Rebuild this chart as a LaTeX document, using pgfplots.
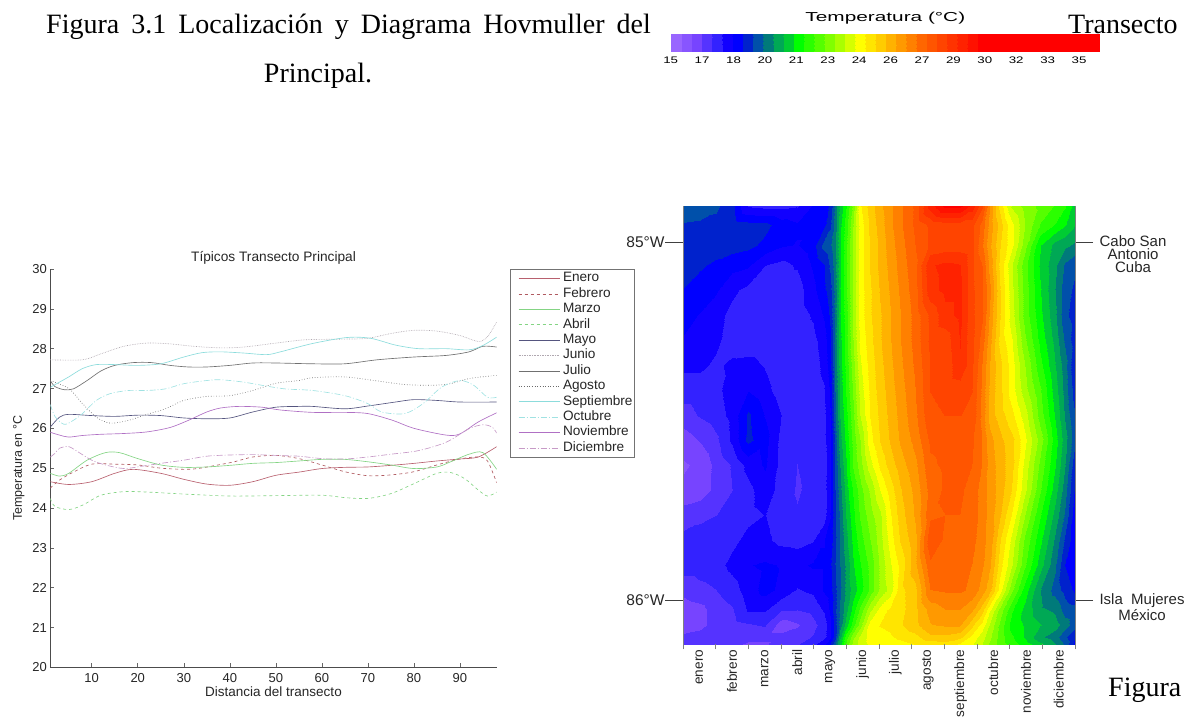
\documentclass[border=0pt]{standalone}
\usepackage{fontspec}
\setmainfont{Liberation Sans}
\newfontfamily\timesfont{Liberation Serif}
\newfontfamily\widefont[FakeStretch=1.4]{Liberation Sans}
\newfontfamily\widerfont[FakeStretch=1.6]{Liberation Sans}
\usepackage{pgfplots}
\pgfplotsset{compat=1.18}

\definecolor{cene}{HTML}{B8606E}
\definecolor{cfeb}{HTML}{B05A60}
\definecolor{cmar}{HTML}{84D484}
\definecolor{cabr}{HTML}{84D484}
\definecolor{cmay}{HTML}{55557F}
\definecolor{cjun}{HTML}{B0A8B0}
\definecolor{cjul}{HTML}{707070}
\definecolor{cago}{HTML}{6A6A6A}
\definecolor{csep}{HTML}{8CDCDC}
\definecolor{coct}{HTML}{A0E2E2}
\definecolor{cnov}{HTML}{B070C4}
\definecolor{cdic}{HTML}{C79AC7}

% bands of half a degree, as in the scale at the top
\pgfplotsset{
  colormap={temp}{
    rgb255=(153,102,255) rgb255=(136,85,255) rgb255=(119,68,255) rgb255=(85,51,255)
    rgb255=(51,34,255) rgb255=(17,0,255) rgb255=(0,0,255) rgb255=(0,34,204)
    rgb255=(0,80,170) rgb255=(0,122,122) rgb255=(0,168,85) rgb255=(0,204,51)
    rgb255=(0,255,0) rgb255=(43,255,0) rgb255=(85,255,0) rgb255=(128,255,0)
    rgb255=(170,255,0) rgb255=(213,255,0) rgb255=(255,255,0) rgb255=(255,229,0)
    rgb255=(255,204,0) rgb255=(255,178,0) rgb255=(255,153,0) rgb255=(255,128,0)
    rgb255=(255,102,0) rgb255=(255,85,0) rgb255=(255,68,0) rgb255=(255,51,0)
    rgb255=(255,34,0) rgb255=(255,17,0) rgb255=(255,0,0) rgb255=(255,0,0)
    rgb255=(255,0,0) rgb255=(255,0,0) rgb255=(255,0,0) rgb255=(255,0,0)
    rgb255=(255,0,0) rgb255=(255,0,0) rgb255=(255,0,0) rgb255=(255,0,0)
    rgb255=(255,0,0) rgb255=(255,0,0)
  }
}

\begin{document}
\begin{tikzpicture}
\path[use as bounding box] (0pt,0pt) rectangle (1191pt,717pt);

% running text around the figures
\node[anchor=base west,inner sep=0,font=\timesfont\fontsize{28}{30}\selectfont] at (46pt,683pt) {\spaceskip=12pt Figura 3.1 Localización y Diagrama Hovmuller del};
\node[anchor=base,inner sep=0,font=\timesfont\fontsize{28}{30}\selectfont] at (318pt,634pt) {Principal.};
\node[anchor=base west,inner sep=0,font=\timesfont\fontsize{28}{30}\selectfont] at (1068pt,683pt) {Transecto};
\node[anchor=base west,inner sep=0,font=\timesfont\fontsize{28}{30}\selectfont] at (1108pt,20pt) {Figura};

% colour scale
\begin{axis}[
  at={(670.7pt,665.7pt)},anchor=south west,
  scale only axis,width=429.3pt,height=17.3pt,
  view={0}{90},
  xmin=15,xmax=35.5,ymin=0,ymax=1,
  axis line style={draw=none},
  ytick=\empty,
  xtick={15,16.5,18,19.5,21,22.5,24,25.5,27,28.5,30,31.5,33,34.5},
  xticklabels={15,17,18,20,21,23,24,26,27,29,30,32,33,35},
  xticklabel style={font=\widefont\fontsize{9.5}{10}\selectfont,yshift=-2pt},
  xtick style={draw=none},
  title={Temperatura (°C)},
  title style={font=\widerfont\fontsize{13}{13}\selectfont,yshift=0.5pt},
  colormap name=temp,
  colormap access=piecewise constant,
  point meta min=15,point meta max=35.5,
]
\addplot3[surf,shader=interp,mesh/cols=2] table {
x y z
15 0 15
35.5 0 35.5
15 1 15
35.5 1 35.5
};
\end{axis}

% monthly means along the transect
\begin{axis}[
  at={(50.3pt,49.7pt)},anchor=south west,
  scale only axis,width=446.4pt,height=398.3pt,
  xmin=1,xmax=98,ymin=20,ymax=30,
  axis lines*=left,
  axis line style={color=black!70,line width=0.7pt,-},
  xtick={10,20,...,90},ytick={20,21,...,30},
  tick align=inside,major tick length=4pt,
  tick style={color=black!60,line width=0.5pt},
  tick label style={font=\fontsize{13}{14}\selectfont,text=black!85},
  /pgf/number format/assume math mode=true,
  xticklabel style={yshift=-3pt},
  title={Típicos Transecto Principal},
  title style={font=\fontsize{13.7}{14}\selectfont,text=black!85,yshift=-5pt},
  xlabel={Distancia del transecto},
  xlabel style={font=\fontsize{13.5}{14}\selectfont,text=black!85,yshift=3pt},
  ylabel={Temperatura en °C},
  ylabel style={font=\fontsize{12.5}{14}\selectfont,text=black!85,yshift=1pt},
  every axis plot/.append style={line width=0.65pt,smooth,no marks},
  legend cell align=left,
  legend style={
    at={(1.0298,1)},anchor=north west,
    draw=black!55,line width=0.7pt,
    font=\fontsize{13.6}{14}\selectfont,
    text=black!85,
    row sep=0.9pt,
    inner xsep=1pt,inner ysep=2pt,
    nodes={inner sep=1pt,text height=9.5pt,text depth=3pt},
  },
  legend image code/.code={\path (0pt,0pt) (50pt,0pt); \draw[#1] (7pt,0pt) -- (48pt,0pt);},
]
\addplot[cene] coordinates {(1,24.66)(5,24.59)(10,24.66)(15,24.87)(19,24.97)(25,24.87)(30,24.72)(35,24.6)(40,24.57)(45,24.66)(50,24.82)(55,24.9)(60,24.99)(65,25.02)(70,25.03)(75,25.07)(80,25.12)(85,25.18)(90,25.23)(94,25.28)(98,25.54)};
\addplot[cfeb,dashed] coordinates {(1,24.5)(3,24.7)(6,24.9)(10,25.1)(15,25.1)(20,25.08)(25,25.0)(30,24.97)(33,24.99)(37,25.07)(41,25.16)(45,25.28)(50,25.32)(55,25.24)(60,25.08)(65,24.91)(70,24.81)(75,24.83)(80,24.91)(85,25.08)(90,25.23)(94,25.28)(96,25.18)(98,24.63)};
\addplot[cmar] coordinates {(1,24.87)(3,24.8)(5,24.87)(9,25.2)(13,25.39)(16,25.39)(20,25.24)(25,25.08)(30,25.02)(35,25.03)(40,25.07)(45,25.12)(50,25.14)(55,25.18)(60,25.22)(65,25.22)(70,25.16)(75,25.08)(80,24.99)(85,25.03)(88,25.16)(92,25.35)(95,25.39)(98,24.97)};
\addplot[cabr,dashed] coordinates {(1,24.24)(2,24.04)(5,23.96)(8,24.07)(12,24.32)(17,24.41)(22,24.4)(30,24.35)(40,24.3)(50,24.31)(60,24.32)(65,24.26)(70,24.24)(75,24.36)(80,24.61)(85,24.87)(88,24.89)(91,24.74)(94,24.45)(96,24.3)(98,24.4)};
\addplot[cmay] coordinates {(1,26.03)(3,26.28)(5,26.35)(10,26.32)(15,26.3)(20,26.33)(25,26.32)(30,26.26)(35,26.24)(40,26.26)(45,26.41)(50,26.53)(55,26.55)(58,26.55)(65,26.49)(70,26.56)(76,26.66)(80,26.72)(85,26.7)(90,26.66)(98,26.66)};
\addplot[cjun,densely dotted] coordinates {(1,27.72)(8,27.72)(12,27.87)(17,28.06)(22,28.14)(27,28.12)(32,28.06)(38,28.02)(43,28.04)(50,28.14)(55,28.21)(58,28.23)(65,28.24)(70,28.26)(75,28.38)(80,28.46)(85,28.44)(90,28.33)(94,28.18)(96,28.3)(98,28.67)};
\addplot[cjul] coordinates {(1,27.2)(2,27.05)(4,26.97)(6,26.99)(9,27.2)(12,27.44)(15,27.58)(19,27.65)(23,27.65)(27,27.58)(31,27.54)(35,27.54)(40,27.58)(45,27.64)(50,27.64)(58,27.62)(65,27.62)(72,27.72)(80,27.79)(87,27.83)(92,27.92)(95,28.06)(98,28.04)};
\addplot[cago,dotted] coordinates {(1,27.2)(5,27.0)(8,26.62)(11,26.28)(14,26.13)(18,26.2)(22,26.35)(26,26.49)(30,26.7)(35,26.8)(40,26.82)(45,26.95)(50,27.13)(55,27.2)(58,27.27)(65,27.29)(72,27.19)(78,27.1)(84,27.08)(88,27.12)(92,27.25)(98,27.33)};
\addplot[csep] coordinates {(1,27.03)(3,27.16)(5,27.29)(8,27.5)(11,27.6)(15,27.6)(20,27.58)(25,27.62)(30,27.79)(34,27.9)(38,27.92)(43,27.89)(48,27.85)(51,27.92)(58,28.13)(65.5,28.28)(70.6,28.26)(76,28.09)(81,28.0)(87,28.0)(92,27.97)(95,28.08)(98,28.29)};
\addplot[coct,dash pattern=on 6pt off 2pt on 1pt off 2pt] coordinates {(1,26.6)(2,26.3)(4,26.1)(6,26.2)(8,26.37)(11,26.7)(14,26.87)(18,26.95)(22,26.95)(26,26.99)(30,27.12)(35,27.2)(38,27.22)(43,27.16)(47,27.08)(52,26.99)(58,26.95)(65,26.82)(70,26.62)(73,26.41)(78,26.37)(82,26.62)(86,27.03)(90,27.2)(93,27.08)(96,26.78)(98,26.78)};
\addplot[cnov] coordinates {(1,25.9)(3,25.83)(5,25.78)(8,25.82)(12,25.85)(17,25.87)(22,25.91)(27,26.02)(31,26.2)(35,26.41)(38,26.51)(42,26.55)(47,26.53)(51,26.46)(58,26.4)(65,26.4)(70,26.37)(75.4,26.2)(80,26.0)(87,25.83)(90,25.86)(94,26.16)(98,26.39)};
\addplot[cdic,dash pattern=on 6pt off 2pt on 1pt off 2pt] coordinates {(1,25.28)(2,25.37)(3,25.5)(5,25.54)(7,25.41)(10,25.2)(13,25.08)(17,24.99)(21,25.05)(25,25.12)(30,25.2)(35,25.3)(40,25.33)(45,25.34)(50,25.32)(55,25.3)(60,25.24)(65,25.23)(70,25.28)(75,25.35)(81,25.44)(87,25.65)(92,25.99)(95,26.09)(97,26.03)(98,25.88)};
\legend{Enero,Febrero,Marzo,Abril,Mayo,Junio,Julio,Agosto,Septiembre,Octubre,Noviembre,Diciembre}
\end{axis}

% month by longitude, filled bands
\begin{axis}[
  at={(683pt,72.7pt)},anchor=south west,
  scale only axis,width=392pt,height=438.3pt,
  view={0}{90},
  xmin=0,xmax=12,ymin=84.899,ymax=86.123,
  y dir=reverse,
  axis line style={draw=none},
  xtick pos=bottom,
  xtick={0.5,1.5,...,11.5},
  xticklabels={enero,febrero,marzo,abril,mayo,junio,julio,agosto,septiembre,octubre,noviembre,diciembre},
  xticklabel style={rotate=90,anchor=east,font=\fontsize{13.6}{14}\selectfont,text=black!85,xshift=16pt},
  xtick style={draw=none},
  extra x ticks={0,1,...,12},
  extra x tick labels={},
  extra x tick style={major tick length=5pt,xtick style={draw=black!50,line width=0.6pt}},
  ytick={85,86},
  yticklabels={85°W,86°W},
  ytick pos=both,
  yticklabel pos=left,
  tick align=outside,
  major tick length=18pt,
  ytick style={color=black!75,line width=0.6pt},
  yticklabel style={font=\fontsize{15.5}{16}\selectfont,text=black!85,xshift=3pt},
  colormap name=temp,
  colormap access=piecewise constant,
  point meta min=15,point meta max=35.5,
  after end axis/.code={
    \draw[black!50,line width=0.7pt] (rel axis cs:0,0) -- (rel axis cs:0,1);
    \draw[black!50,line width=0.7pt] (rel axis cs:1,0) -- (rel axis cs:1,1);
  },
]
\addplot3[surf,shader=interp,mesh/cols=34] coordinates {
(0,84.899,19.3)(0.52,84.899,19.2)(1.01,84.899,19.0)(1.5,84.899,18.6)(1.99,84.899,17.4)(2.51,84.899,17.3)(3,84.899,17.3)(3.49,84.899,17.4)(3.98,84.899,18.0)(4.32,84.899,18.2)(4.5,84.899,18.5)(4.65,84.899,19.5)(4.81,84.899,20.5)(4.99,84.899,21.3)(5.2,84.899,22.5)(5.42,84.899,24.2)(5.72,84.899,25.0)(6.03,84.899,25.6)(6.34,84.899,26.1)(6.64,84.899,26.6)(7.1,84.899,27.3)(7.56,84.899,28.9)(8.02,84.899,29.8)(8.48,84.899,29.8)(8.85,84.899,29.0)(9.15,84.899,27.8)(9.4,84.899,26.2)(9.7,84.899,24.6)(10.07,84.899,23.2)(10.47,84.899,22.6)(10.93,84.899,22.2)(11.39,84.899,21.8)(11.69,84.899,21.4)(12,84.899,20.6)

(0,84.953,18.85)(0.52,84.953,18.8)(1.01,84.953,18.75)(1.5,84.953,18.7)(1.99,84.953,18.6)(2.51,84.953,18.55)(3,84.953,18.2)(3.49,84.953,18.0)(3.98,84.953,18.0)(4.32,84.953,18.3)(4.5,84.953,18.8)(4.65,84.953,19.6)(4.81,84.953,20.7)(4.99,84.953,21.6)(5.2,84.953,22.8)(5.42,84.953,24.0)(5.72,84.953,24.9)(6.03,84.953,25.5)(6.34,84.953,26.1)(6.64,84.953,26.6)(7.1,84.953,27.3)(7.56,84.953,27.8)(8.02,84.953,27.9)(8.48,84.953,27.9)(8.85,84.953,27.8)(9.15,84.953,27.0)(9.4,84.953,26.0)(9.7,84.953,25.0)(10.07,84.953,23.9)(10.47,84.953,22.8)(10.93,84.953,21.8)(11.39,84.953,21.3)(11.69,84.953,20.9)(12,84.953,20.4)

(0,85.008,18.8)(0.52,85.008,18.8)(1.01,85.008,18.7)(1.5,85.008,18.65)(1.99,85.008,18.55)(2.51,85.008,18.3)(3,85.008,18.0)(3.49,85.008,17.9)(3.98,85.008,18.2)(4.32,85.008,19.1)(4.5,85.008,19.3)(4.65,85.008,19.8)(4.81,85.008,20.8)(4.99,85.008,21.7)(5.2,85.008,22.9)(5.42,85.008,24.0)(5.72,85.008,24.8)(6.03,85.008,25.4)(6.34,85.008,26.0)(6.64,85.008,26.5)(7.1,85.008,27.2)(7.56,85.008,27.8)(8.02,85.008,27.9)(8.48,85.008,27.9)(8.85,85.008,27.8)(9.15,85.008,26.8)(9.4,85.008,25.8)(9.7,85.008,24.8)(10.07,85.008,23.9)(10.47,85.008,22.5)(10.93,85.008,20.9)(11.39,85.008,20.2)(11.69,85.008,20.0)(12,85.008,19.8)

(0,85.064,18.65)(0.52,85.064,18.5)(1.01,85.064,18.3)(1.5,85.064,18.1)(1.99,85.064,18.0)(2.51,85.064,17.45)(3,85.064,17.3)(3.49,85.064,17.5)(3.98,85.064,18.0)(4.32,85.064,18.4)(4.5,85.064,19.0)(4.65,85.064,19.7)(4.81,85.064,20.8)(4.99,85.064,21.7)(5.2,85.064,22.9)(5.42,85.064,24.0)(5.72,85.064,24.8)(6.03,85.064,25.4)(6.34,85.064,25.9)(6.64,85.064,26.4)(7.1,85.064,27.1)(7.56,85.064,28.6)(8.02,85.064,28.8)(8.48,85.064,28.7)(8.85,85.064,27.8)(9.15,85.064,27.2)(9.4,85.064,26.0)(9.7,85.064,24.6)(10.07,85.064,23.3)(10.47,85.064,22.0)(10.93,85.064,20.8)(11.39,85.064,20.0)(11.69,85.064,19.3)(12,85.064,19.0)

(0,85.134,18.4)(0.52,85.134,18.15)(1.01,85.134,18.0)(1.5,85.134,17.55)(1.99,85.134,17.3)(2.51,85.134,17.2)(3,85.134,17.15)(3.49,85.134,17.2)(3.98,85.134,17.8)(4.32,85.134,18.3)(4.5,85.134,18.7)(4.65,85.134,19.6)(4.81,85.134,20.8)(4.99,85.134,21.7)(5.2,85.134,22.9)(5.42,85.134,24.0)(5.72,85.134,24.7)(6.03,85.134,25.3)(6.34,85.134,25.8)(6.64,85.134,26.3)(7.1,85.134,27.0)(7.56,85.134,28.5)(8.02,85.134,28.8)(8.48,85.134,28.8)(8.85,85.134,27.8)(9.15,85.134,27.3)(9.4,85.134,26.3)(9.7,85.134,24.8)(10.07,85.134,23.4)(10.47,85.134,22.1)(10.93,85.134,20.9)(11.39,85.134,19.9)(11.69,85.134,19.1)(12,85.134,18.8)

(0,85.204,18.1)(0.52,85.204,17.9)(1.01,85.204,17.6)(1.5,85.204,17.3)(1.99,85.204,17.2)(2.51,85.204,17.2)(3,85.204,17.1)(3.49,85.204,17.2)(3.98,85.204,17.5)(4.32,85.204,18.0)(4.5,85.204,18.5)(4.65,85.204,19.6)(4.81,85.204,20.8)(4.99,85.204,21.6)(5.2,85.204,22.9)(5.42,85.204,24.0)(5.72,85.204,24.7)(6.03,85.204,25.2)(6.34,85.204,25.7)(6.64,85.204,26.2)(7.1,85.204,26.9)(7.56,85.204,27.8)(8.02,85.204,28.5)(8.48,85.204,28.8)(8.85,85.204,27.8)(9.15,85.204,27.3)(9.4,85.204,26.1)(9.7,85.204,24.8)(10.07,85.204,23.5)(10.47,85.204,22.1)(10.93,85.204,21.0)(11.39,85.204,20.0)(11.69,85.204,19.0)(12,85.204,18.7)

(0,85.274,17.9)(0.52,85.274,17.75)(1.01,85.274,17.55)(1.5,85.274,17.2)(1.99,85.274,17.15)(2.51,85.274,17.15)(3,85.274,17.1)(3.49,85.274,17.15)(3.98,85.274,17.3)(4.32,85.274,17.7)(4.5,85.274,18.3)(4.65,85.274,19.6)(4.81,85.274,20.7)(4.99,85.274,21.6)(5.2,85.274,22.8)(5.42,85.274,23.9)(5.72,85.274,24.6)(6.03,85.274,25.2)(6.34,85.274,25.7)(6.64,85.274,26.2)(7.1,85.274,26.9)(7.56,85.274,27.8)(8.02,85.274,27.9)(8.48,85.274,28.7)(8.85,85.274,27.8)(9.15,85.274,27.0)(9.4,85.274,25.9)(9.7,85.274,24.6)(10.07,85.274,23.8)(10.47,85.274,22.4)(10.93,85.274,21.2)(11.39,85.274,20.2)(11.69,85.274,19.3)(12,85.274,18.6)

(0,85.344,17.55)(0.52,85.344,17.55)(1.01,85.344,17.35)(1.5,85.344,17.55)(1.99,85.344,17.6)(2.51,85.344,17.4)(3,85.344,17.1)(3.49,85.344,17.1)(3.98,85.344,17.2)(4.32,85.344,17.6)(4.5,85.344,18.2)(4.65,85.344,19.5)(4.81,85.344,20.6)(4.99,85.344,21.5)(5.2,85.344,22.6)(5.42,85.344,23.7)(5.72,85.344,24.5)(6.03,85.344,25.1)(6.34,85.344,25.6)(6.64,85.344,26.1)(7.1,85.344,26.8)(7.56,85.344,27.7)(8.02,85.344,27.8)(8.48,85.344,28.6)(8.85,85.344,27.8)(9.15,85.344,26.7)(9.4,85.344,25.7)(9.7,85.344,24.9)(10.07,85.344,24.0)(10.47,85.344,22.8)(10.93,85.344,21.5)(11.39,85.344,20.4)(11.69,85.344,19.6)(12,85.344,18.4)

(0,85.413,17.2)(0.52,85.413,17.2)(1.01,85.413,17.3)(1.5,85.413,17.7)(1.99,85.413,17.9)(2.51,85.413,17.6)(3,85.413,17.2)(3.49,85.413,17.1)(3.98,85.413,17.15)(4.32,85.413,17.4)(4.5,85.413,18.0)(4.65,85.413,19.4)(4.81,85.413,20.5)(4.99,85.413,21.4)(5.2,85.413,22.4)(5.42,85.413,23.5)(5.72,85.413,24.4)(6.03,85.413,25.0)(6.34,85.413,25.5)(6.64,85.413,26.0)(7.1,85.413,26.7)(7.56,85.413,27.7)(8.02,85.413,27.8)(8.48,85.413,27.9)(8.85,85.413,27.7)(9.15,85.413,26.6)(9.4,85.413,25.6)(9.7,85.413,24.9)(10.07,85.413,24.0)(10.47,85.413,23.0)(10.93,85.413,21.9)(11.39,85.413,20.6)(11.69,85.413,19.7)(12,85.413,18.6)

(0,85.483,16.75)(0.52,85.483,17.0)(1.01,85.483,17.2)(1.5,85.483,17.6)(1.99,85.483,18.5)(2.51,85.483,17.9)(3,85.483,17.45)(3.49,85.483,17.2)(3.98,85.483,17.1)(4.32,85.483,17.3)(4.5,85.483,17.9)(4.65,85.483,19.3)(4.81,85.483,20.4)(4.99,85.483,21.2)(5.2,85.483,22.2)(5.42,85.483,23.3)(5.72,85.483,24.3)(6.03,85.483,24.9)(6.34,85.483,25.4)(6.64,85.483,25.9)(7.1,85.483,26.6)(7.56,85.483,27.6)(8.02,85.483,27.7)(8.48,85.483,27.7)(8.85,85.483,27.6)(9.15,85.483,26.6)(9.4,85.483,25.5)(9.7,85.483,25.0)(10.07,85.483,24.4)(10.47,85.483,23.5)(10.93,85.483,22.1)(11.39,85.483,20.8)(11.69,85.483,19.8)(12,85.483,18.9)

(0,85.553,16.2)(0.52,85.553,16.5)(1.01,85.553,16.85)(1.5,85.553,17.55)(1.99,85.553,18.55)(2.51,85.553,18.1)(3,85.553,17.3)(3.49,85.553,17.0)(3.98,85.553,17.1)(4.32,85.553,17.3)(4.5,85.553,17.8)(4.65,85.553,19.1)(4.81,85.553,20.2)(4.99,85.553,21.0)(5.2,85.553,22.0)(5.42,85.553,22.8)(5.72,85.553,24.1)(6.03,85.553,24.8)(6.34,85.553,25.3)(6.64,85.553,25.8)(7.1,85.553,26.4)(7.56,85.553,27.3)(8.02,85.553,27.4)(8.48,85.553,27.4)(8.85,85.553,27.3)(9.15,85.553,26.7)(9.4,85.553,25.9)(9.7,85.553,25.4)(10.07,85.553,24.9)(10.47,85.553,23.9)(10.93,85.553,22.6)(11.39,85.553,21.1)(11.69,85.553,20.1)(12,85.553,19.0)

(0,85.623,15.9)(0.52,85.623,16.1)(1.01,85.623,16.6)(1.5,85.623,17.0)(1.99,85.623,17.6)(2.51,85.623,18.0)(3,85.623,17.3)(3.49,85.623,16.95)(3.98,85.623,17.1)(4.32,85.623,17.2)(4.5,85.623,17.8)(4.65,85.623,19.0)(4.81,85.623,19.9)(4.99,85.623,20.8)(5.2,85.623,21.9)(5.42,85.623,22.6)(5.72,85.623,23.6)(6.03,85.623,24.4)(6.34,85.623,25.0)(6.64,85.623,25.5)(7.1,85.623,26.1)(7.56,85.623,27.1)(8.02,85.623,27.3)(8.48,85.623,27.3)(8.85,85.623,27.2)(9.15,85.623,26.7)(9.4,85.623,26.0)(9.7,85.623,25.5)(10.07,85.623,24.9)(10.47,85.623,23.6)(10.93,85.623,22.2)(11.39,85.623,20.9)(11.69,85.623,19.9)(12,85.623,18.5)

(0,85.693,16.1)(0.52,85.693,16.2)(1.01,85.693,16.6)(1.5,85.693,16.95)(1.99,85.693,17.3)(2.51,85.693,17.7)(3,85.693,17.25)(3.49,85.693,16.9)(3.98,85.693,17.1)(4.32,85.693,17.25)(4.5,85.693,17.8)(4.65,85.693,18.9)(4.81,85.693,19.7)(4.99,85.693,20.6)(5.2,85.693,21.4)(5.42,85.693,22.1)(5.72,85.693,22.9)(6.03,85.693,23.8)(6.34,85.693,24.5)(6.64,85.693,25.2)(7.1,85.693,25.9)(7.56,85.693,26.9)(8.02,85.693,27.3)(8.48,85.693,27.3)(8.85,85.693,27.0)(9.15,85.693,26.5)(9.4,85.693,26.0)(9.7,85.693,25.5)(10.07,85.693,24.7)(10.47,85.693,23.4)(10.93,85.693,21.9)(11.39,85.693,20.6)(11.69,85.693,19.6)(12,85.693,18.3)

(0,85.763,16.7)(0.52,85.763,16.85)(1.01,85.763,16.95)(1.5,85.763,17.1)(1.99,85.763,17.3)(2.51,85.763,17.45)(3,85.763,17.2)(3.49,85.763,17.0)(3.98,85.763,17.1)(4.32,85.763,17.2)(4.5,85.763,17.9)(4.65,85.763,18.8)(4.81,85.763,19.5)(4.99,85.763,20.4)(5.2,85.763,21.2)(5.42,85.763,21.9)(5.72,85.763,22.6)(6.03,85.763,23.2)(6.34,85.763,24.2)(6.64,85.763,25.0)(7.1,85.763,25.8)(7.56,85.763,27.1)(8.02,85.763,27.2)(8.48,85.763,27.2)(8.85,85.763,27.0)(9.15,85.763,26.5)(9.4,85.763,26.0)(9.7,85.763,25.3)(10.07,85.763,24.2)(10.47,85.763,22.8)(10.93,85.763,21.4)(11.39,85.763,20.2)(11.69,85.763,19.3)(12,85.763,18.1)

(0,85.832,17.1)(0.52,85.832,17.15)(1.01,85.832,17.2)(1.5,85.832,17.3)(1.99,85.832,17.6)(2.51,85.832,17.55)(3,85.832,17.3)(3.49,85.832,17.25)(3.98,85.832,17.4)(4.32,85.832,17.9)(4.5,85.832,18.1)(4.65,85.832,18.8)(4.81,85.832,19.4)(4.99,85.832,20.2)(5.2,85.832,21.0)(5.42,85.832,21.6)(5.72,85.832,22.3)(6.03,85.832,23.1)(6.34,85.832,24.0)(6.64,85.832,24.8)(7.1,85.832,25.6)(7.56,85.832,27.6)(8.02,85.832,27.1)(8.48,85.832,27.1)(8.85,85.832,26.9)(9.15,85.832,26.4)(9.4,85.832,26.0)(9.7,85.832,24.8)(10.07,85.832,23.6)(10.47,85.832,22.2)(10.93,85.832,21.0)(11.39,85.832,19.8)(11.69,85.832,18.8)(12,85.832,18.1)

(0,85.902,17.2)(0.52,85.902,17.2)(1.01,85.902,17.25)(1.5,85.902,17.6)(1.99,85.902,17.9)(2.51,85.902,18.0)(3,85.902,17.9)(3.49,85.902,17.8)(3.98,85.902,18.0)(4.32,85.902,18.0)(4.5,85.902,18.3)(4.65,85.902,18.9)(4.81,85.902,19.4)(4.99,85.902,20.0)(5.2,85.902,20.8)(5.42,85.902,21.3)(5.72,85.902,22.0)(6.03,85.902,22.9)(6.34,85.902,23.7)(6.64,85.902,24.4)(7.1,85.902,25.6)(7.56,85.902,27.1)(8.02,85.902,27.2)(8.48,85.902,27.1)(8.85,85.902,26.7)(9.15,85.902,26.3)(9.4,85.902,25.8)(9.7,85.902,24.5)(10.07,85.902,23.3)(10.47,85.902,21.9)(10.93,85.902,20.6)(11.39,85.902,19.5)(11.69,85.902,18.4)(12,85.902,18.0)

(0,85.972,16.6)(0.52,85.972,16.8)(1.01,85.972,16.95)(1.5,85.972,17.2)(1.99,85.972,17.7)(2.51,85.972,18.1)(3,85.972,17.8)(3.49,85.972,17.4)(3.98,85.972,17.55)(4.32,85.972,18.0)(4.5,85.972,18.2)(4.65,85.972,18.8)(4.81,85.972,19.3)(4.99,85.972,20.0)(5.2,85.972,20.6)(5.42,85.972,21.1)(5.72,85.972,22.0)(6.03,85.972,22.9)(6.34,85.972,23.5)(6.64,85.972,24.6)(7.1,85.972,25.1)(7.56,85.972,26.7)(8.02,85.972,26.8)(8.48,85.972,26.8)(8.85,85.972,26.6)(9.15,85.972,26.0)(9.4,85.972,25.4)(9.7,85.972,24.0)(10.07,85.972,22.4)(10.47,85.972,21.1)(10.93,85.972,19.9)(11.39,85.972,19.2)(11.69,85.972,18.7)(12,85.972,18.3)

(0,86.028,16.2)(0.52,86.028,16.3)(1.01,86.028,16.7)(1.5,86.028,16.9)(1.99,86.028,17.5)(2.51,86.028,17.5)(3,86.028,17.0)(3.49,86.028,16.95)(3.98,86.028,17.1)(4.32,86.028,17.5)(4.5,86.028,18.0)(4.65,86.028,18.8)(4.81,86.028,19.5)(4.99,86.028,20.2)(5.2,86.028,21.1)(5.42,86.028,22.0)(5.72,86.028,23.2)(6.03,86.028,24.0)(6.34,86.028,24.4)(6.64,86.028,24.6)(7.1,86.028,25.1)(7.56,86.028,25.9)(8.02,86.028,26.2)(8.48,86.028,26.2)(8.85,86.028,25.8)(9.15,86.028,25.0)(9.4,86.028,23.8)(9.7,86.028,22.6)(10.07,86.028,21.4)(10.47,86.028,20.7)(10.93,86.028,20.0)(11.39,86.028,19.8)(11.69,86.028,19.2)(12,86.028,19.1)

(0,86.07,16.1)(0.52,86.07,16.3)(1.01,86.07,16.7)(1.5,86.07,16.75)(1.99,86.07,16.9)(2.51,86.07,17.0)(3,86.07,16.2)(3.49,86.07,16.4)(3.98,86.07,16.8)(4.32,86.07,17.2)(4.5,86.07,17.8)(4.65,86.07,18.7)(4.81,86.07,19.6)(4.99,86.07,20.6)(5.2,86.07,21.6)(5.42,86.07,22.6)(5.72,86.07,24.0)(6.03,86.07,24.3)(6.34,86.07,24.4)(6.64,86.07,24.7)(7.1,86.07,25.1)(7.56,86.07,25.7)(8.02,86.07,25.8)(8.48,86.07,25.8)(8.85,86.07,24.9)(9.15,86.07,24.1)(9.4,86.07,23.2)(9.7,86.07,22.2)(10.07,86.07,21.1)(10.47,86.07,20.8)(10.93,86.07,20.4)(11.39,86.07,20.1)(11.69,86.07,19.6)(12,86.07,19.1)

(0,86.103,16.6)(0.52,86.103,16.7)(1.01,86.103,16.8)(1.5,86.103,16.7)(1.99,86.103,16.6)(2.51,86.103,16.6)(3,86.103,16.6)(3.49,86.103,16.7)(3.98,86.103,17.0)(4.32,86.103,17.3)(4.5,86.103,17.8)(4.65,86.103,18.7)(4.81,86.103,20.3)(4.99,86.103,21.6)(5.2,86.103,22.7)(5.42,86.103,23.4)(5.72,86.103,24.0)(6.03,86.103,24.1)(6.34,86.103,24.2)(6.64,86.103,24.4)(7.1,86.103,24.6)(7.56,86.103,25.1)(8.02,86.103,25.1)(8.48,86.103,24.9)(8.85,86.103,24.1)(9.15,86.103,23.5)(9.4,86.103,22.9)(9.7,86.103,22.1)(10.07,86.103,21.4)(10.47,86.103,20.8)(10.93,86.103,20.0)(11.39,86.103,19.6)(11.69,86.103,19.0)(12,86.103,18.4)

(0,86.123,16.7)(0.52,86.123,16.8)(1.01,86.123,16.7)(1.5,86.123,16.6)(1.99,86.123,16.4)(2.51,86.123,16.4)(3,86.123,16.7)(3.49,86.123,16.9)(3.98,86.123,17.3)(4.32,86.123,17.8)(4.5,86.123,18.4)(4.65,86.123,19.3)(4.81,86.123,20.6)(4.99,86.123,21.9)(5.2,86.123,23.0)(5.42,86.123,23.5)(5.72,86.123,23.9)(6.03,86.123,24.0)(6.34,86.123,24.0)(6.64,86.123,24.1)(7.1,86.123,24.3)(7.56,86.123,24.5)(8.02,86.123,24.6)(8.48,86.123,24.2)(8.85,86.123,23.9)(9.15,86.123,23.3)(9.4,86.123,22.7)(9.7,86.123,22.1)(10.07,86.123,21.6)(10.47,86.123,21.1)(10.93,86.123,20.5)(11.39,86.123,19.9)(11.69,86.123,19.3)(12,86.123,18.2)
};
\end{axis}

\node[anchor=north,align=center,inner sep=0,font=\fontsize{15}{13.3}\selectfont,text=black!85] at (1133pt,482pt) {Cabo San\\Antonio\\Cuba};
\node[anchor=north,align=center,inner sep=0,font=\fontsize{15}{16}\selectfont,text=black!85] at (1142pt,124pt) {Isla\ \ Mujeres\\México};
\end{tikzpicture}
\end{document}
